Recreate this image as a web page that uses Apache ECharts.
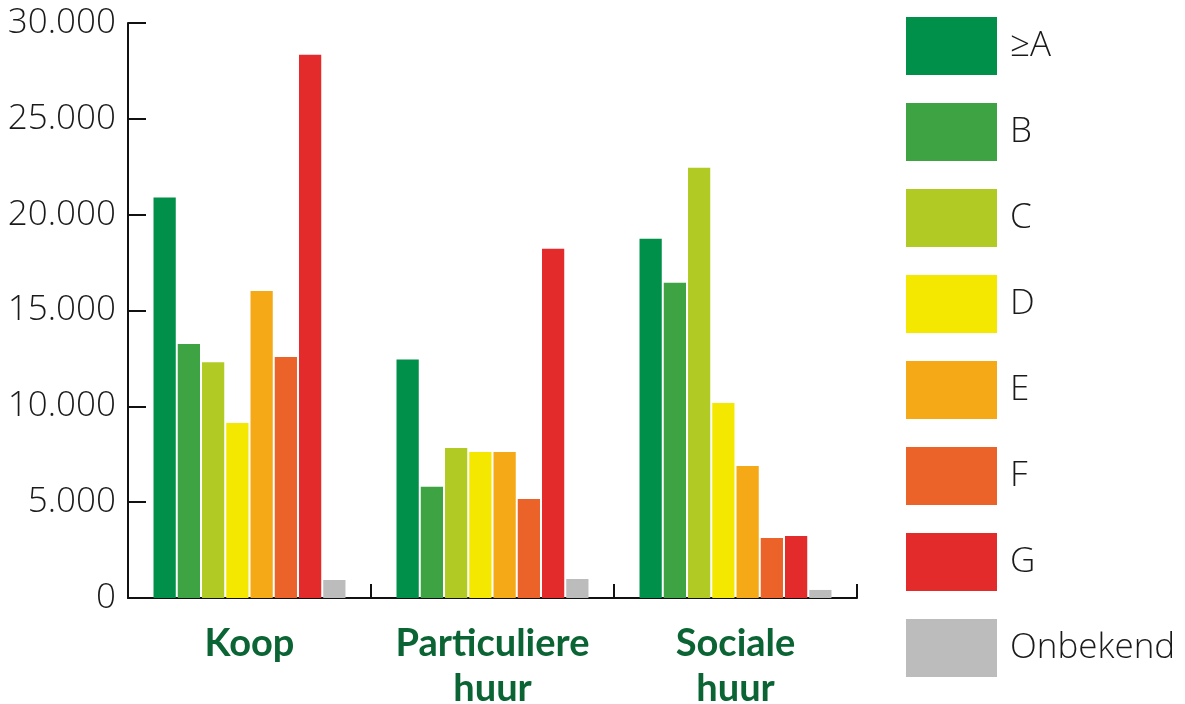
<!DOCTYPE html>
<html>
<head>
<meta charset="utf-8">
<script src="https://cdn.jsdelivr.net/npm/echarts@6/dist/echarts.min.js"></script>
<style>
  html, body { margin: 0; padding: 0; background: #fff; }
  #chart { width: 1185px; height: 704px; }
</style>
</head>
<body>
<div id="chart"></div>
<script>
// Woningvoorraad per energielabel, naar eigendomscategorie
const categories = ['Koop', 'Particuliere\nhuur', 'Sociale\nhuur'];
const labels = ['≥A', 'B', 'C', 'D', 'E', 'F', 'G', 'Onbekend'];
const colors = ['#009049', '#3ea342', '#b2cb24', '#f5e800', '#f5a916', '#eb6329', '#e42b2c', '#bcbcbc'];

// Aantal woningen per label: [Koop, Particuliere huur, Sociale huur]
const labelA = [20900, 12450, 18750];
const labelB = [13250, 5800, 16450];
const labelC = [12300, 7830, 22450];
const labelD = [9130, 7620, 10170];
const labelE = [16020, 7620, 6890];
const labelF = [12570, 5170, 3130];
const labelG = [28350, 18220, 3230];
const labelOnbekend = [940, 990, 420];

const yTicks = [0, 5000, 10000, 15000, 20000, 25000, 30000];

const seriesData = [labelA, labelB, labelC, labelD, labelE, labelF, labelG, labelOnbekend];

const fmt = v => String(v).replace(/\B(?=(\d{3})+(?!\d))/g, '.');

const chart = echarts.init(document.getElementById('chart'), null, { renderer: 'canvas' });

chart.setOption({
  animation: false,
  color: colors,
  textStyle: { fontFamily: 'Open Sans, Lato, sans-serif' },
  grid: { left: 128, right: 328, top: 23, bottom: 106, containLabel: false, outerBoundsMode: 'none' },
  legend: {
    orient: 'vertical',
    left: 906,
    top: 17,
    padding: 0,
    icon: 'rect',
    itemWidth: 91,
    itemHeight: 58,
    itemGap: 28,
    data: labels,
    textStyle: {
      fontSize: 35,
      fontWeight: 300,
      color: '#1a1a1a',
      fontFamily: 'Open Sans, Lato, sans-serif',
      padding: [6, 0, 0, 8]
    }
  },
  xAxis: {
    type: 'category',
    data: categories,
    axisLine: { show: true, lineStyle: { color: '#111', width: 2 } },
    axisTick: { show: true, inside: true, interval: 0, length: 14, lineStyle: { color: '#111', width: 2 } },
    axisLabel: {
      interval: 0,
      hideOverlap: false,
      color: '#0b6434',
      fontSize: 38,
      fontWeight: 'bold',
      lineHeight: 45,
      margin: 23,
      fontFamily: 'Lato, Open Sans, sans-serif'
    }
  },
  yAxis: {
    type: 'value',
    min: yTicks[0],
    max: yTicks[yTicks.length - 1],
    interval: yTicks[1] - yTicks[0],
    splitLine: { show: false },
    axisLine: { show: true, lineStyle: { color: '#111', width: 2 } },
    axisTick: { show: true, inside: true, length: 18, lineStyle: { color: '#111', width: 2 } },
    axisLabel: {
      color: '#1a1a1a',
      fontSize: 35,
      fontWeight: 300,
      margin: 12,
      formatter: fmt
    }
  },
  series: labels.map((name, i) => ({
    name: name,
    type: 'bar',
    data: seriesData[i],
    barCategoryGap: '21%',
    barGap: '9%',
    itemStyle: { color: colors[i] }
  }))
});
</script>
</body>
</html>
